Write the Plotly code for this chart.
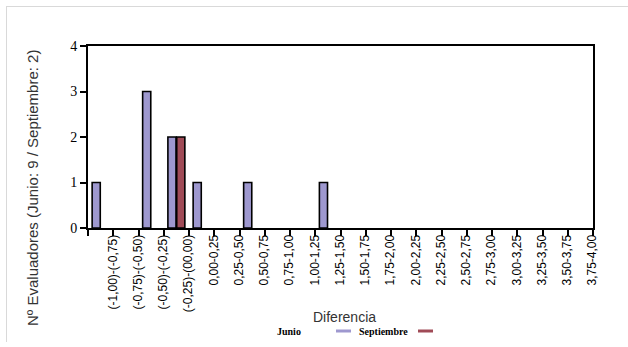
import plotly.graph_objects as go

categories = ["(-1,00)-(-0,75)", "(-0,75)-(-0,50)", "(-0,50)-(-0,25)", "(-0,25)-(00,00)",
              "0,00-0,25", "0,25-0,50", "0,50-0,75", "0,75-1,00", "1,00-1,25", "1,25-1,50",
              "1,50-1,75", "1,75-2,00", "2,00-2,25", "2,25-2,50", "2,50-2,75", "2,75-3,00",
              "3,00-3,25", "3,25-3,50", "3,50-3,75", "3,75-4,00"]
junio = [1, 0, 3, 2, 1, 0, 1, 0, 0, 1, 0, 0, 0, 0, 0, 0, 0, 0, 0, 0]
septiembre = [0, 0, 0, 2, 0, 0, 0, 0, 0, 0, 0, 0, 0, 0, 0, 0, 0, 0, 0, 0]
y_ticks = [0, 1, 2, 3, 4]

col_jun = "#9e98cf"
col_sep = "#a04b57"

fig = go.Figure()
fig.add_trace(go.Bar(x=categories, y=[v if v else None for v in junio], name="Junio",
                     marker=dict(color=col_jun, line=dict(color="black", width=1.6)),
                     showlegend=False))
fig.add_trace(go.Bar(x=categories, y=[v if v else None for v in septiembre], name="Septiembre",
                     marker=dict(color=col_sep, line=dict(color="black", width=1.6)),
                     showlegend=False))

W, H = 628, 347
L, R, T, B = 88, 35, 46, 119
pw, ph = W - L - R, H - T - B

def px(x):
    return (x - L) / pw

def py(y):
    return (H - B - y) / ph

fig.update_layout(
    width=W, height=H,
    margin=dict(l=L, r=R, t=T, b=B),
    paper_bgcolor="white", plot_bgcolor="white",
    barmode="group", bargap=0.3, bargroupgap=0.08,
    xaxis=dict(type="category", categoryorder="array", categoryarray=categories,
               tickson="boundaries", ticks="outside", ticklen=6, tickwidth=1.5, tickcolor="black",
               tickangle=-90, ticklabelshift=12,
               tickfont=dict(family="Liberation Sans", size=12, color="black"),
               showline=True, linecolor="black", linewidth=2, mirror=True,
               showgrid=False, zeroline=False),
    yaxis=dict(range=[0, 4], tickvals=y_ticks, ticks="outside", ticklen=6, tickwidth=1.5,
               tickcolor="black", tickfont=dict(family="Liberation Serif", size=14, color="black"),
               showline=True, linecolor="black", linewidth=2, mirror=True,
               showgrid=False, zeroline=False),
    showlegend=False,
)

ann = []
ann.append(dict(text="Nº Evaluadores (Junio: 9 / Septiembre: 2)", x=px(32), y=py(188),
                xref="paper", yref="paper", showarrow=False, textangle=-90,
                font=dict(family="Liberation Sans", size=15, color="#333333"),
                xanchor="center", yanchor="middle"))
ann.append(dict(text="Diferencia", x=px(344), y=py(317), xref="paper", yref="paper",
                showarrow=False, font=dict(family="Liberation Sans", size=14, color="#333333"),
                xanchor="center", yanchor="middle"))
ann.append(dict(text="<b>Junio</b>", x=px(275), y=py(331), xref="paper", yref="paper",
                showarrow=False, font=dict(family="Liberation Serif", size=10, color="black"),
                xanchor="left", yanchor="middle"))
ann.append(dict(text="<b>Septiembre</b>", x=px(357), y=py(331), xref="paper", yref="paper",
                showarrow=False, font=dict(family="Liberation Serif", size=10, color="black"),
                xanchor="left", yanchor="middle"))
fig.update_layout(annotations=ann)

shapes = [
    dict(type="line", xref="paper", yref="paper", x0=px(336), x1=px(351), y0=py(331), y1=py(331),
         line=dict(color=col_jun, width=3)),
    dict(type="line", xref="paper", yref="paper", x0=px(418), x1=px(433), y0=py(331), y1=py(331),
         line=dict(color=col_sep, width=3)),
    dict(type="line", xref="paper", yref="paper", x0=px(6), x1=px(628), y0=py(6.5), y1=py(6.5),
         line=dict(color="#d9d9d9", width=1)),
    dict(type="line", xref="paper", yref="paper", x0=px(6.5), x1=px(6.5), y0=py(6), y1=py(342),
         line=dict(color="#d9d9d9", width=1)),
]
fig.update_layout(shapes=shapes)

fig.write_html("out.html", config={"displayModeBar": False},
               post_script="document.body.style.margin='0';document.body.style.overflow='hidden';")
